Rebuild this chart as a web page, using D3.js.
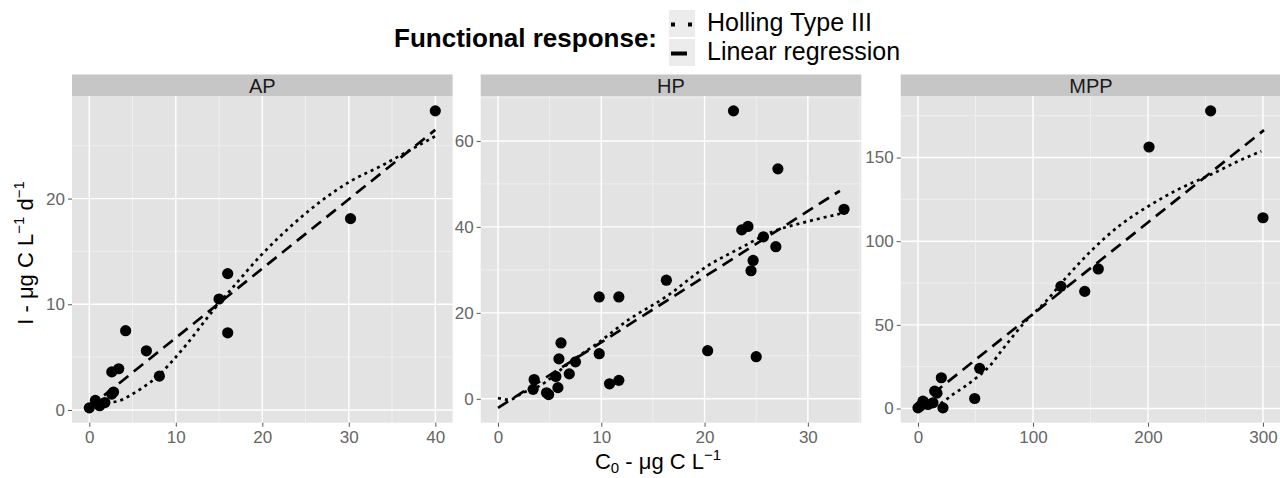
<!DOCTYPE html>
<html>
<head>
<meta charset="utf-8">
<script src="https://cdn.jsdelivr.net/npm/d3@7"></script>
<style>
  body { margin: 0; background: #fff; }
  text { font-family: "Liberation Sans", Arial, sans-serif; }
</style>
</head>
<body>
<svg id="chart"></svg>
<script>
// ---- data ----
const panelNames = ['AP', 'HP', 'MPP'];

// observed points
const apX  = [0.0, 0.7, 1.2, 1.8, 2.6, 2.8, 2.6, 3.4, 4.2, 6.6, 8.1, 15.0, 16.0, 16.0, 30.2, 40.0];
const apY  = [0.2, 0.9, 0.4, 0.7, 1.5, 1.7, 3.6, 3.9, 7.5, 5.6, 3.2, 10.5, 12.9, 7.3, 18.1, 28.3];
const hpX  = [3.5, 3.4, 4.7, 4.9, 5.6, 5.8, 5.9, 6.1, 6.9, 7.5, 9.8, 9.8, 10.8, 11.7, 11.7, 16.3, 20.3, 22.8, 23.6, 24.2, 24.5, 24.7, 25.0, 25.7, 26.9, 27.1, 33.5];
const hpY  = [4.5, 2.2, 1.4, 1.0, 5.2, 2.6, 9.3, 13.0, 5.8, 8.6, 10.5, 23.7, 3.5, 4.3, 23.7, 27.6, 11.2, 67.0, 39.3, 40.1, 29.8, 32.2, 9.8, 37.7, 35.4, 53.5, 44.1];
const mppX = [0, 2, 4.3, 8.7, 13, 14.5, 16.5, 20.3, 21.7, 49.3, 53.6, 124.3, 145.0, 156.8, 200.9, 254.5, 300.0];
const mppY = [0.4, 1.5, 4.4, 2.4, 3.4, 10.4, 9.2, 18.4, 0.4, 6.0, 24.0, 73.0, 70.0, 83.4, 156.3, 177.9, 114.0];

// linear regression fits (end points)
const apLinX  = [0, 40.0],  apLinY  = [0.26, 26.5];
const hpLinX  = [0, 33.1],  hpLinY  = [-2.1, 48.4];
const mppLinX = [0, 300.9], mppLinY = [1.8, 166.4];

// Holling type III fits
const apHolX  = [2.8, 3.5, 4.7, 6.2, 7.8, 9.3, 11.3, 14.3, 16.6, 19.7, 23.6, 26.7, 30.1, 34.0, 37.1, 40.0];
const apHolY  = [0.75, 0.88, 1.36, 2.14, 3.1, 4.36, 6.26, 9.4, 11.6, 14.5, 17.6, 19.7, 21.6, 23.2, 24.6, 25.9];
const hpHolX  = [0, 1.1, 2.4, 3.7, 7.3, 9.9, 12.4, 16.3, 20.2, 23.4, 26.6, 29.9, 33.4];
const hpHolY  = [0.2, -0.2, 1.4, 2.6, 9.1, 13.4, 18.0, 23.8, 30.8, 35.0, 38.9, 41.2, 43.2];
const mppHolX = [8, 20.3, 30.4, 39.1, 50.8, 62.3, 72.5, 91.3, 111.7, 129, 152.2, 175.4, 201.5, 227.6, 256.5, 276.9, 298.6];
const mppHolY = [0.8, 3.4, 8.4, 12.4, 18.4, 25.4, 34.4, 50.4, 64.4, 78.4, 95.3, 109.4, 121.4, 131.4, 140.4, 147.3, 153.8];

// axis breaks
const apXTicks  = [0, 10, 20, 30, 40],   apYTicks  = [0, 10, 20];
const hpXTicks  = [0, 10, 20, 30],       hpYTicks  = [0, 20, 40, 60];
const mppXTicks = [0, 100, 200, 300],    mppYTicks = [0, 50, 100, 150];

const legendLabels = ['Holling Type III', 'Linear regression'];

// ---- layout ----
const W = 1280, H = 478;
const plotTop = 96, plotBottom = 422.7, stripTop = 74.5;
const panelLeft = [72, 480.7, 900.7];
const panelWidth = 380.6;

const panels = [
  {name: panelNames[0], px: apX, py: apY, linX: apLinX, linY: apLinY, holX: apHolX, holY: apHolY, xt: apXTicks, yt: apYTicks},
  {name: panelNames[1], px: hpX, py: hpY, linX: hpLinX, linY: hpLinY, holX: hpHolX, holY: hpHolY, xt: hpXTicks, yt: hpYTicks},
  {name: panelNames[2], px: mppX, py: mppY, linX: mppLinX, linY: mppLinY, holX: mppHolX, holY: mppHolY, xt: mppXTicks, yt: mppYTicks}
];

const svg = d3.select('#chart').attr('width', W).attr('height', H);

// ggplot style 5% expansion
function expanded(vals){
  const [lo, hi] = d3.extent(vals);
  const pad = (hi - lo) * 0.05;
  return [lo - pad, hi + pad];
}
function minorBreaks(major, dom){
  const step = major[1] - major[0];
  const ext = [major[0] - step].concat(major, [major[major.length - 1] + step]);
  const out = [];
  for (let i = 0; i < ext.length - 1; i++) {
    const m = (ext[i] + ext[i + 1]) / 2;
    if (m >= dom[0] && m <= dom[1]) out.push(m);
  }
  return out;
}

panels.forEach((p, i) => {
  const left = panelLeft[i], right = left + panelWidth;
  const x = d3.scaleLinear()
    .domain(expanded(p.px.concat(p.linX, p.holX)))
    .range([left, right]);
  const y = d3.scaleLinear()
    .domain(expanded(p.py.concat(p.linY, p.holY)))
    .range([plotBottom, plotTop]);

  const g = svg.append('g');

  // panel background
  g.append('rect')
    .attr('x', left).attr('y', plotTop)
    .attr('width', panelWidth).attr('height', plotBottom - plotTop)
    .attr('fill', '#e3e3e3');

  // strip
  g.append('rect')
    .attr('x', left).attr('y', stripTop)
    .attr('width', panelWidth).attr('height', plotTop - stripTop)
    .attr('fill', '#c6c6c6');
  g.append('text')
    .attr('x', left + panelWidth / 2).attr('y', 93)
    .attr('text-anchor', 'middle')
    .style('font-size', '20px').attr('fill', '#1a1a1a')
    .text(p.name);

  // grid
  const grid = g.append('g');
  minorBreaks(p.xt, x.domain()).forEach(v => {
    grid.append('line').attr('x1', x(v)).attr('x2', x(v)).attr('y1', plotTop).attr('y2', plotBottom)
      .attr('stroke', '#f1f1f1').attr('stroke-width', 0.8);
  });
  minorBreaks(p.yt, y.domain()).forEach(v => {
    grid.append('line').attr('x1', left).attr('x2', right).attr('y1', y(v)).attr('y2', y(v))
      .attr('stroke', '#f1f1f1').attr('stroke-width', 0.8);
  });
  p.xt.forEach(v => {
    grid.append('line').attr('x1', x(v)).attr('x2', x(v)).attr('y1', plotTop).attr('y2', plotBottom)
      .attr('stroke', '#fff').attr('stroke-width', 1.4);
  });
  p.yt.forEach(v => {
    grid.append('line').attr('x1', left).attr('x2', right).attr('y1', y(v)).attr('y2', y(v))
      .attr('stroke', '#fff').attr('stroke-width', 1.4);
  });

  // axes
  const xAxis = g.append('g')
    .attr('transform', `translate(0,${plotBottom})`)
    .call(d3.axisBottom(x).tickValues(p.xt).tickSizeOuter(0).tickSizeInner(4).tickPadding(4));
  const yAxis = g.append('g')
    .attr('transform', `translate(${left},0)`)
    .call(d3.axisLeft(y).tickValues(p.yt).tickSizeOuter(0).tickSizeInner(4).tickPadding(3));
  [xAxis, yAxis].forEach(a => {
    a.select('.domain').remove();
    a.selectAll('line').attr('stroke', '#555');
    a.selectAll('text').style('font-size', '17px').attr('fill', '#666')
      .style('font-family', '"Liberation Sans", Arial, sans-serif');
  });

  // points
  g.selectAll('circle.pt')
    .data(d3.zip(p.px, p.py))
    .enter()
    .append('circle')
    .attr('cx', d => x(d[0]))
    .attr('cy', d => y(d[1]))
    .attr('r', 5.6)
    .attr('fill', '#000');

  // fitted lines
  const line = d3.line().x(d => x(d[0])).y(d => y(d[1]));
  g.append('path')
    .attr('d', line(d3.zip(p.linX, p.linY)))
    .attr('fill', 'none').attr('stroke', '#000')
    .attr('stroke-width', 2.7).attr('stroke-dasharray', '12,7');
  g.append('path')
    .attr('d', line.curve(d3.curveMonotoneX)(d3.zip(p.holX, p.holY)))
    .attr('fill', 'none').attr('stroke', '#000')
    .attr('stroke-width', 2.7).attr('stroke-dasharray', '3,4');
});

// axis titles
const xTitle = svg.append('text')
  .attr('x', 658).attr('y', 469)
  .attr('text-anchor', 'middle')
  .style('font-size', '22px').attr('fill', '#000');
xTitle.append('tspan').text('C');
xTitle.append('tspan').attr('dy', 4).style('font-size', '15px').text('0');
xTitle.append('tspan').attr('dy', -4).text(' - μg C L');
xTitle.append('tspan').attr('dy', -9).style('font-size', '15px').text('−1');

const yTitle = svg.append('text')
  .attr('transform', 'translate(33,253) rotate(-90)')
  .attr('text-anchor', 'middle')
  .style('font-size', '22px').attr('fill', '#000');
yTitle.append('tspan').text('I - μg C L');
yTitle.append('tspan').attr('dy', -9).style('font-size', '15px').text('−1');
yTitle.append('tspan').attr('dy', 9).text(' d');
yTitle.append('tspan').attr('dy', -9).style('font-size', '15px').text('−1');

// legend
const legend = svg.append('g');
legend.append('text')
  .attr('x', 657).attr('y', 47)
  .attr('text-anchor', 'end')
  .style('font-size', '26px').style('font-weight', 'bold').attr('fill', '#000')
  .text('Functional response:');

const keyY = [10, 39];
const keyDash = ['4,13', '16,30'];
legendLabels.forEach((lab, i) => {
  legend.append('rect')
    .attr('x', 669).attr('y', keyY[i])
    .attr('width', 26).attr('height', 27)
    .attr('fill', '#ececec');
  legend.append('line')
    .attr('x1', 671).attr('x2', 695)
    .attr('y1', keyY[i] + 14.5).attr('y2', keyY[i] + 14.5)
    .attr('stroke', '#000').attr('stroke-width', 4)
    .attr('stroke-dasharray', keyDash[i]);
  legend.append('text')
    .attr('x', 707).attr('y', i === 0 ? 31 : 60)
    .style('font-size', '25px').attr('fill', '#000')
    .text(lab);
});
</script>
</body>
</html>
